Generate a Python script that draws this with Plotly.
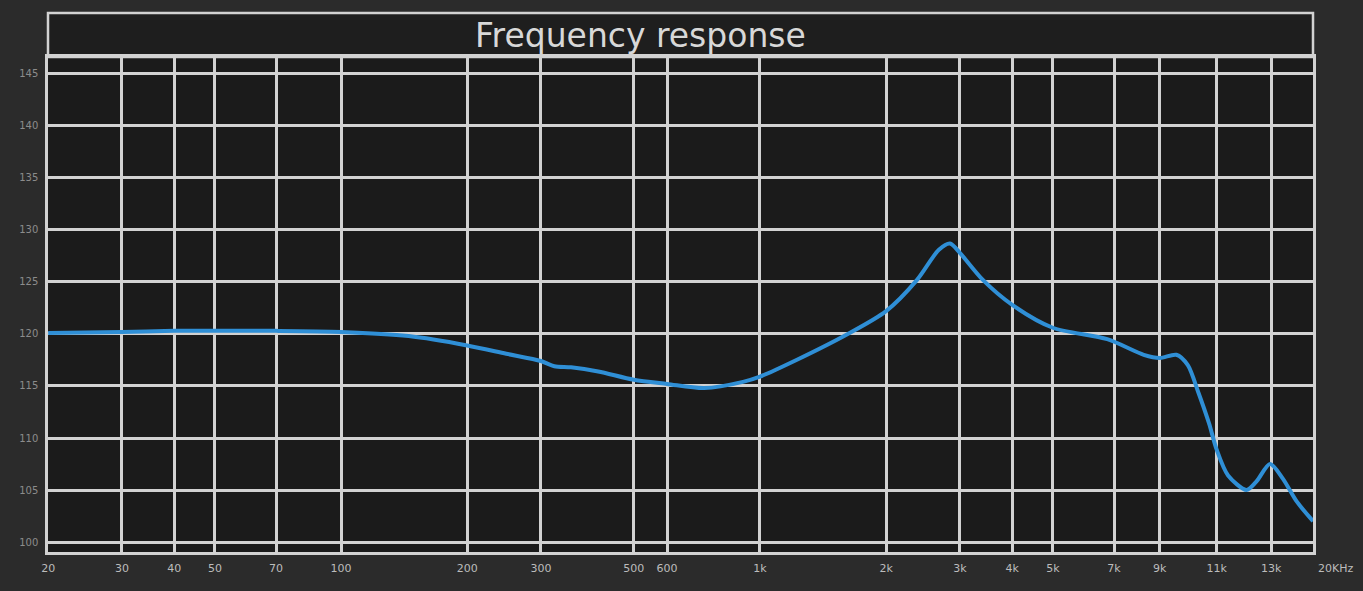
import math
import plotly.graph_objects as go

# ---- data ----
freq_hz = [20, 30, 40, 50, 70, 100, 145, 200, 248, 300, 323, 354, 411, 500, 600,
           736, 911, 1000, 1222, 1620, 2000, 2371, 2673, 2842, 3000, 3404, 4000,
           5000, 6745, 8242, 9000, 9860, 10500, 11100, 11800, 12300, 13100, 14500,
           15300, 16500, 17700, 19100, 20900]
spl_db = [120.1, 120.2, 120.3, 120.3, 120.3, 120.2, 119.8, 118.9, 118.1, 117.4,
          116.9, 116.8, 116.4, 115.6, 115.2, 114.8, 115.4, 115.9, 117.5, 120.0,
          122.2, 125.2, 128.1, 128.7, 127.8, 125.2, 122.8, 120.6, 119.5, 118.0,
          117.7, 118.0, 117.0, 114.5, 111.4, 108.9, 106.4, 105.0, 105.8, 107.5,
          106.1, 103.9, 102.0]

x_tick_vals = [20, 30, 40, 50, 70, 100, 200, 300, 500, 600, 1000, 2000, 3000,
               4000, 5000, 7000, 9000, 12300, 16600]
x_tick_text = ["20", "30", "40", "50", "70", "100", "200", "300", "500", "600",
               "1k", "2k", "3k", "4k", "5k", "7k", "9k", "11k", "13k"]
y_tick_vals = [100, 105, 110, 115, 120, 125, 130, 135, 140, 145]
y_tick_text = [str(v) for v in y_tick_vals]
title_text = "Frequency response"
end_label = "20KHz"

GRID = "#d2d2d2"
W, H = 1363, 591
L, R, T, B = 48, 50, 57, 39
plot_h = H - T - B

fig = go.Figure()
fig.add_trace(go.Scatter(
    x=freq_hz, y=spl_db, mode="lines",
    line=dict(color="#2f8fd6", width=4, shape="spline", smoothing=0.8),
    hoverinfo="skip", showlegend=False,
))

fig.update_layout(
    width=W, height=H,
    margin=dict(l=L, r=R, t=T, b=B),
    paper_bgcolor="#2b2b2b",
    plot_bgcolor="#1b1b1b",
    font=dict(family="DejaVu Sans", color="#bdbdbd"),
    xaxis=dict(
        type="log", range=[math.log10(19.98), 4.320],
        tickvals=x_tick_vals, ticktext=x_tick_text,
        showgrid=True, gridcolor=GRID, gridwidth=2.5,
        showline=True, linecolor=GRID, linewidth=2.5, mirror=True,
        zeroline=False, ticks="", ticklabelstandoff=4,
        tickfont=dict(size=11, color="#bcbcbc"),
    ),
    yaxis=dict(
        range=[99.04, 146.63],
        tickvals=y_tick_vals, ticktext=y_tick_text,
        showgrid=True, gridcolor=GRID, gridwidth=2.5,
        showline=True, linecolor=GRID, linewidth=2.5, mirror=True,
        zeroline=False, ticks="", ticklabelstandoff=5,
        tickfont=dict(size=10, color="#8c8c8c"),
    ),
    shapes=[dict(
        type="rect", xref="paper", yref="paper",
        x0=0, x1=1, y0=1, y1=1 + 44 / plot_h,
        fillcolor="#1e1e1e", line=dict(color=GRID, width=2.5), layer="below",
    )],
    annotations=[
        dict(text=title_text, xref="paper", yref="paper",
             x=(640 - L) / (W - L - R), y=1 + 21 / plot_h,
             xanchor="center", yanchor="middle", showarrow=False,
             font=dict(family="DejaVu Sans", size=33, color="#d8d8d8")),
        dict(text=end_label, xref="paper", yref="paper",
             x=(1336 - L) / (W - L - R), y=-16 / plot_h,
             xanchor="center", yanchor="middle", showarrow=False,
             font=dict(family="DejaVu Sans", size=11, color="#bcbcbc")),
    ],
)

fig.write_html(
    "out.html",
    config={"displayModeBar": False},
    post_script="document.body.style.margin='0';document.body.style.background='#2b2b2b';",
)
